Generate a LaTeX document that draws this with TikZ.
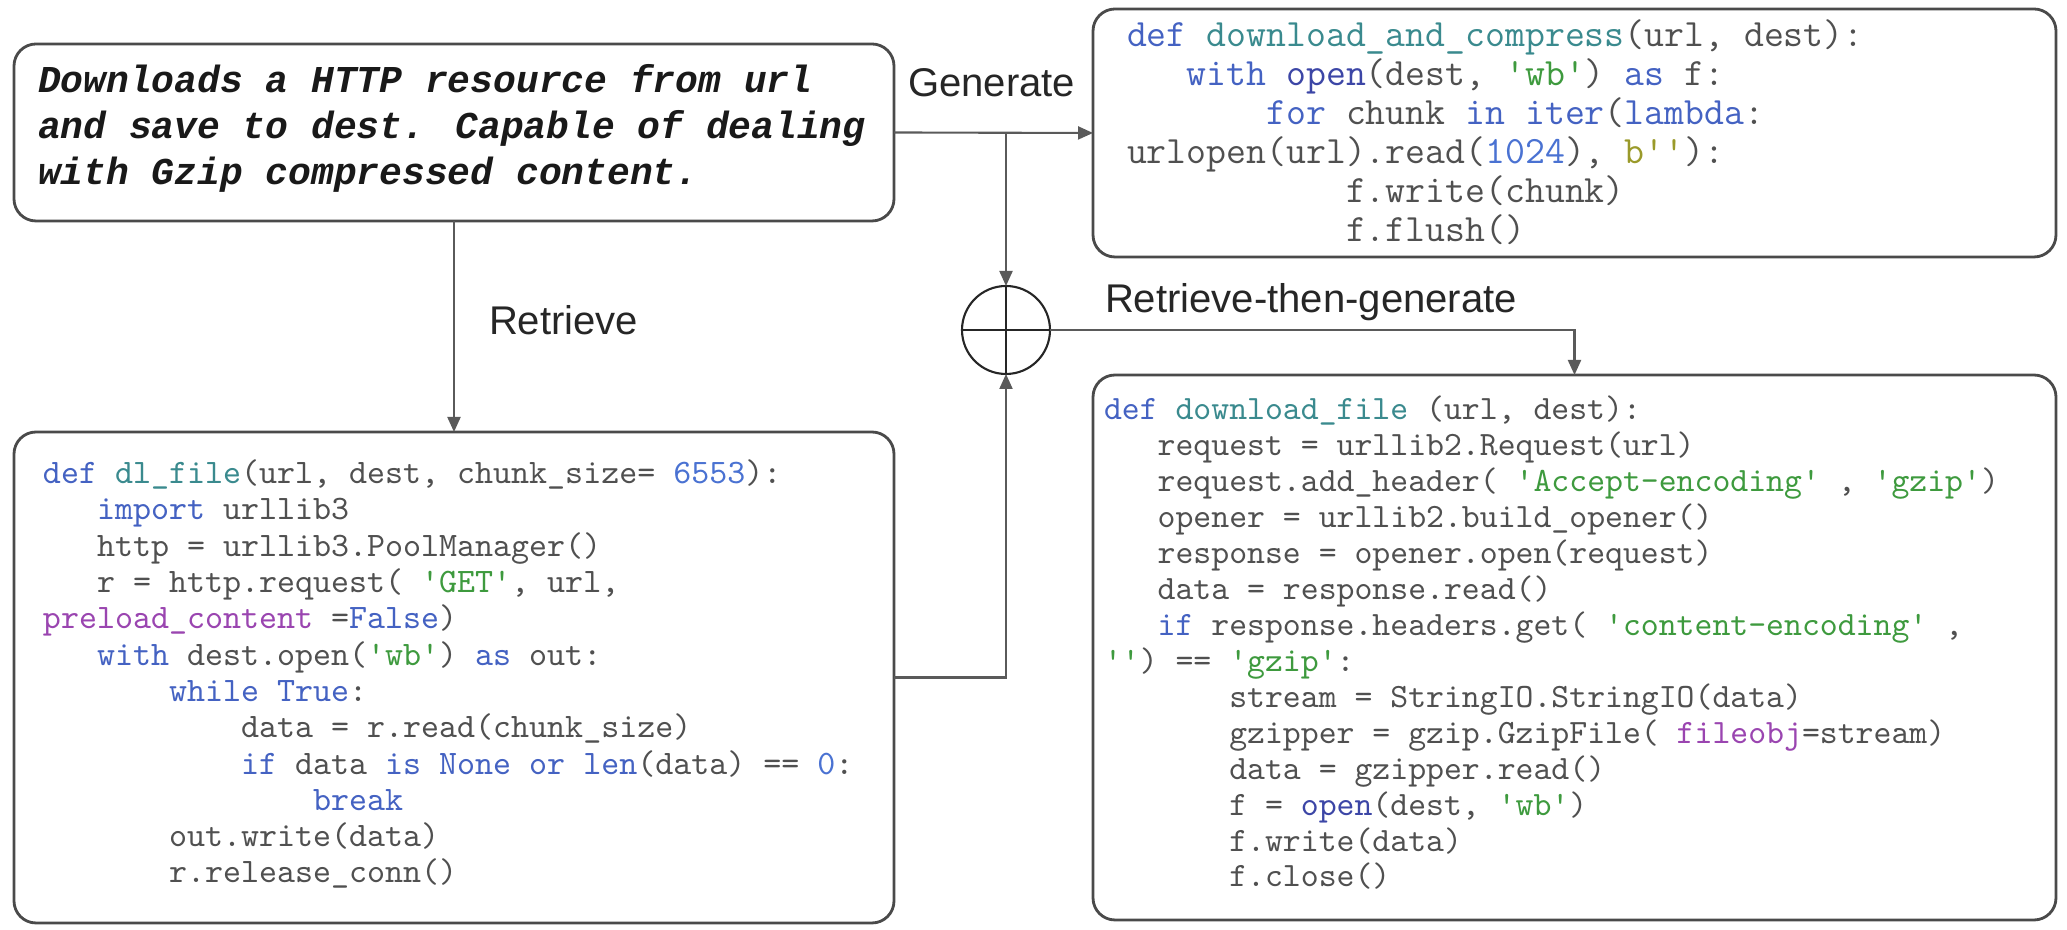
\documentclass[tikz,border=0pt]{standalone}
\usepackage{fontspec}
\usepackage{tikz}
\usetikzlibrary{arrows.meta}
\newfontfamily\queryfont{Liberation Mono}
\newfontfamily\labelfont{Liberation Sans}
\definecolor{kwcol}{HTML}{4462C2}
\definecolor{bicol}{HTML}{3C46A6}
\definecolor{fncol}{HTML}{3A8A8E}
\definecolor{strcol}{HTML}{3E9A3E}
\definecolor{numcol}{HTML}{4A72D2}
\definecolor{argcol}{HTML}{9A45B0}
\definecolor{bytcol}{HTML}{9A9A2A}
\definecolor{codegray}{HTML}{505050}
\definecolor{boxgray}{HTML}{4A4A4A}
\definecolor{linegray}{HTML}{5A5A5A}
\newcommand{\kw}[1]{\textcolor{kwcol}{#1}}
\newcommand{\bi}[1]{\textcolor{bicol}{#1}}
\newcommand{\fn}[1]{\textcolor{fncol}{#1}}
\newcommand{\qs}[1]{\textcolor{strcol}{#1}}
\newcommand{\nm}[1]{\textcolor{numcol}{#1}}
\newcommand{\kwarg}[1]{\textcolor{argcol}{#1}}
\newcommand{\bt}[1]{\textcolor{bytcol}{#1}}
\newcommand{\ind}[1]{\hspace*{#1\fontdimen2\font}}

\begin{document}
\begin{tikzpicture}[x=0.1mm, y=-0.1mm, >={Triangle[length=1.5mm,width=1.3mm]}]
\tikzstyle{every node} = [inner sep=0, outer sep=0]
\tikzstyle{box} = [rectangle, draw=boxgray, line width=.8pt, rounded corners=2.2mm]
\tikzstyle{code} = [anchor=base west, align=left, text=codegray]
\tikzstyle{lbl} = [anchor=base west, text=black!85, font=\labelfont\fontsize{11.4pt}{13pt}\selectfont]
\tikzstyle{link} = [draw=linegray, line width=.6pt]
\useasboundingbox (0,0) rectangle (2067,930);

% boxes
\node[box, minimum width=88mm, minimum height=17.7mm] (query) at (454,132.5) {};
\node[box, minimum width=96.3mm, minimum height=24.8mm] (gencode) at (1574.5,133) {};
\node[box, minimum width=88mm, minimum height=49.1mm] (retcode) at (454,677.5) {};
\node[box, minimum width=96.3mm, minimum height=54.5mm] (rtgcode) at (1574.5,647.5) {};
\node[circle, draw=black!85, line width=.6pt, minimum size=8.8mm] (plus) at (1006,330) {};

% texts (anchored at the baseline of their last line)
\node[code, text=black!90, font=\queryfont\bfseries\itshape\fontsize{10.8pt}{13.2pt}\selectfont] (querytxt) at (38,185)
{Downloads a HTTP resource from url\\
and save to dest. Capable of dealing\\
with Gzip compressed content.};

\node[code, font=\ttfamily\fontsize{11pt}{11.1pt}\selectfont] (gentxt) at (1127,242)
{\kw{def} \fn{download\_and\_compress}(url, dest):\\
\ind{3}\kw{with} \bi{open}(dest, \qs{'wb'}) \kw{as} f:\\
\ind{7}\kw{for} chunk \kw{in} \kw{iter}(\kw{lambda}:\\
urlopen(url).read(\nm{1024}), \bt{b''}):\\
\ind{11}f.write(chunk)\\
\ind{11}f.flush()};

\node[code, font=\ttfamily\fontsize{9.76pt}{10.33pt}\selectfont] (rettxt) at (43,883)
{\kw{def} \fn{dl\_file}(url, dest, chunk\_size= \nm{6553}):\\
\ind{3}\kw{import} urllib3\\
\ind{3}http = urllib3.PoolManager()\\
\ind{3}r = http.request( \qs{'GET'}, url,\\
\kwarg{preload\_content} =\kw{False})\\
\ind{3}\kw{with} dest.open(\qs{'wb'}) \kw{as} out:\\
\ind{7}\kw{while} \kw{True}:\\
\ind{11}data = r.read(chunk\_size)\\
\ind{11}\kw{if} data \kw{is} \kw{None} \kw{or} \kw{len}(data) == \nm{0}:\\
\ind{15}\kw{break}\\
\ind{7}out.write(data)\\
\ind{7}r.release\_conn()};

\node[code, font=\ttfamily\fontsize{9.7pt}{10.24pt}\selectfont] (rtgtxt) at (1104,887)
{\kw{def} \fn{download\_file} (url, dest):\\
\ind{3}request = urllib2.Request(url)\\
\ind{3}request.add\_header( \qs{'Accept-encoding'} , \qs{'gzip'})\\
\ind{3}opener = urllib2.build\_opener()\\
\ind{3}response = opener.open(request)\\
\ind{3}data = response.read()\\
\ind{3}\kw{if} response.headers.get( \qs{'content-encoding'} ,\\
\qs{''}) == \qs{'gzip'}:\\
\ind{7}stream = StringIO.StringIO(data)\\
\ind{7}gzipper = gzip.GzipFile( \kwarg{fileobj}=stream)\\
\ind{7}data = gzipper.read()\\
\ind{7}f = \bi{open}(dest, \qs{'wb'})\\
\ind{7}f.write(data)\\
\ind{7}f.close()};

\node[lbl] (genlbl) at (908,97) {Generate};
\node[lbl] (retlbl) at (489,335) {Retrieve};
\node[lbl] (rtglbl) at (1105,313) {Retrieve-then-generate};

% connectors
\coordinate (split) at (plus |- query.east);
\draw[link, ->] (query.east) -- (gencode.west);
\draw[link, ->] (split) -- (plus.north);
\draw[link, ->] (query.south) -- (retcode.north);
\draw[link, ->] (retcode.east) -| (plus.south);
\draw[link, ->] (plus.east) -| (rtgcode.north);
\draw[black!85, line width=.6pt] (plus.north) -- (plus.south) (plus.west) -- (plus.east);
\end{tikzpicture}
\end{document}
